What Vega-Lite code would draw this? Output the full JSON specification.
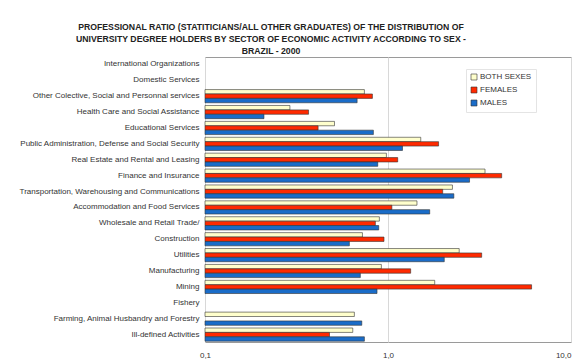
{
  "$schema": "https://vega.github.io/schema/vega-lite/v6.json",
  "autosize": {"type": "none"},
  "width": 366,
  "height": 285,
  "padding": {"left": 205, "top": 57, "right": 3, "bottom": 21},
  "background": "white",
  "config": {
    "font": "Liberation Sans",
    "view": {"stroke": "#9a9a9a", "strokeWidth": 1}
  },
  "title": {
    "text": [
      "PROFESSIONAL RATIO (STATITICIANS/ALL OTHER GRADUATES) OF THE DISTRIBUTION OF",
      "UNIVERSITY DEGREE HOLDERS BY SECTOR OF ECONOMIC ACTIVITY ACCORDING TO SEX -",
      "BRAZIL - 2000"
    ],
    "anchor": "middle",
    "frame": "group",
    "dx": -117,
    "offset": 1,
    "fontSize": 8.7,
    "fontWeight": "bold",
    "lineHeight": 12,
    "color": "#222"
  },
  "data": {
    "values": [
      {"sector": "Other Colective, Social and Personnal services", "sex": "BOTH SEXES", "ratio": 0.743},
      {"sector": "Other Colective, Social and Personnal services", "sex": "FEMALES", "ratio": 0.822},
      {"sector": "Other Colective, Social and Personnal services", "sex": "MALES", "ratio": 0.678},
      {"sector": "Health Care and Social Assistance", "sex": "BOTH SEXES", "ratio": 0.291},
      {"sector": "Health Care and Social Assistance", "sex": "FEMALES", "ratio": 0.368},
      {"sector": "Health Care and Social Assistance", "sex": "MALES", "ratio": 0.21},
      {"sector": "Educational Services", "sex": "BOTH SEXES", "ratio": 0.51},
      {"sector": "Educational Services", "sex": "FEMALES", "ratio": 0.415},
      {"sector": "Educational Services", "sex": "MALES", "ratio": 0.832},
      {"sector": "Public Administration, Defense and Social Security", "sex": "BOTH SEXES", "ratio": 1.51},
      {"sector": "Public Administration, Defense and Social Security", "sex": "FEMALES", "ratio": 1.89},
      {"sector": "Public Administration, Defense and Social Security", "sex": "MALES", "ratio": 1.2},
      {"sector": "Real Estate and Rental and Leasing", "sex": "BOTH SEXES", "ratio": 0.98},
      {"sector": "Real Estate and Rental and Leasing", "sex": "FEMALES", "ratio": 1.13},
      {"sector": "Real Estate and Rental and Leasing", "sex": "MALES", "ratio": 0.879},
      {"sector": "Finance and Insurance", "sex": "BOTH SEXES", "ratio": 3.39},
      {"sector": "Finance and Insurance", "sex": "FEMALES", "ratio": 4.18},
      {"sector": "Finance and Insurance", "sex": "MALES", "ratio": 2.79},
      {"sector": "Transportation, Warehousing and Communications", "sex": "BOTH SEXES", "ratio": 2.25},
      {"sector": "Transportation, Warehousing and Communications", "sex": "FEMALES", "ratio": 1.99},
      {"sector": "Transportation, Warehousing and Communications", "sex": "MALES", "ratio": 2.29},
      {"sector": "Accommodation and Food Services", "sex": "BOTH SEXES", "ratio": 1.44},
      {"sector": "Accommodation and Food Services", "sex": "FEMALES", "ratio": 1.05},
      {"sector": "Accommodation and Food Services", "sex": "MALES", "ratio": 1.69},
      {"sector": "Wholesale and Retail Trade/", "sex": "BOTH SEXES", "ratio": 0.897},
      {"sector": "Wholesale and Retail Trade/", "sex": "FEMALES", "ratio": 0.853},
      {"sector": "Wholesale and Retail Trade/", "sex": "MALES", "ratio": 0.89},
      {"sector": "Construction", "sex": "BOTH SEXES", "ratio": 0.725},
      {"sector": "Construction", "sex": "FEMALES", "ratio": 0.951},
      {"sector": "Construction", "sex": "MALES", "ratio": 0.615},
      {"sector": "Utilities", "sex": "BOTH SEXES", "ratio": 2.45},
      {"sector": "Utilities", "sex": "FEMALES", "ratio": 3.25},
      {"sector": "Utilities", "sex": "MALES", "ratio": 2.03},
      {"sector": "Manufacturing", "sex": "BOTH SEXES", "ratio": 0.92},
      {"sector": "Manufacturing", "sex": "FEMALES", "ratio": 1.33},
      {"sector": "Manufacturing", "sex": "MALES", "ratio": 0.706},
      {"sector": "Mining", "sex": "BOTH SEXES", "ratio": 1.8},
      {"sector": "Mining", "sex": "FEMALES", "ratio": 6.09},
      {"sector": "Mining", "sex": "MALES", "ratio": 0.871},
      {"sector": "Farming, Animal Husbandry and Forestry", "sex": "BOTH SEXES", "ratio": 0.655},
      {"sector": "Farming, Animal Husbandry and Forestry", "sex": "MALES", "ratio": 0.719},
      {"sector": "Ill-defined Activities", "sex": "BOTH SEXES", "ratio": 0.642},
      {"sector": "Ill-defined Activities", "sex": "FEMALES", "ratio": 0.479},
      {"sector": "Ill-defined Activities", "sex": "MALES", "ratio": 0.743}
    ]
  },
  "mark": {"type": "bar", "stroke": "#333333", "strokeWidth": 0.6},
  "encoding": {
    "y": {
      "field": "sector",
      "type": "nominal",
      "scale": {
        "domain": [
          "International Organizations",
          "Domestic Services",
          "Other Colective, Social and Personnal services",
          "Health Care and Social Assistance",
          "Educational Services",
          "Public Administration, Defense and Social Security",
          "Real Estate and Rental and Leasing",
          "Finance and Insurance",
          "Transportation, Warehousing and Communications",
          "Accommodation and Food Services",
          "Wholesale and Retail Trade/",
          "Construction",
          "Utilities",
          "Manufacturing",
          "Mining",
          "Fishery",
          "Farming, Animal Husbandry and Forestry",
          "Ill-defined Activities"
        ],
        "paddingInner": 0.17,
        "paddingOuter": 0.05
      },
      "axis": {
        "title": null,
        "domain": false,
        "ticks": false,
        "labelPadding": 6,
        "labelFontSize": 8,
        "labelColor": "#333333",
        "labelLimit": 220
      }
    },
    "yOffset": {
      "field": "sex",
      "type": "nominal",
      "scale": {"domain": ["BOTH SEXES", "FEMALES", "MALES"], "paddingInner": 0, "paddingOuter": 0}
    },
    "x": {
      "field": "ratio",
      "type": "quantitative",
      "scale": {"type": "log", "domain": [0.1, 10], "nice": false},
      "axis": {
        "title": null,
        "values": [0.1, 1, 10],
        "labelExpr": "datum.value < 0.5 ? '0,1' : datum.value < 5 ? '1,0' : '10,0'",
        "labelAlign": {"expr": "datum.value > 5 ? 'right' : 'center'"},
        "domain": false,
        "ticks": false,
        "grid": true,
        "gridColor": "#d8d8d8",
        "gridWidth": 1,
        "labelPadding": 9,
        "labelFontSize": 8,
        "labelColor": "#333333",
        "labelFlush": false
      }
    },
    "x2": {"datum": 0.1},
    "color": {
      "field": "sex",
      "type": "nominal",
      "scale": {
        "domain": ["BOTH SEXES", "FEMALES", "MALES"],
        "range": ["#FFFFCC", "#FF2A00", "#1A6CC8"]
      },
      "legend": {
        "title": null,
        "orient": "none",
        "legendX": 261,
        "legendY": 12,
        "symbolType": "square",
        "symbolSize": 36,
        "symbolStrokeColor": "#333333",
        "symbolStrokeWidth": 0.6,
        "labelFontSize": 8,
        "labelColor": "#333333",
        "labelOffset": 2,
        "rowPadding": 3,
        "padding": 4,
        "strokeColor": "#e4e4e4",
        "fillColor": "white"
      }
    }
  }
}
